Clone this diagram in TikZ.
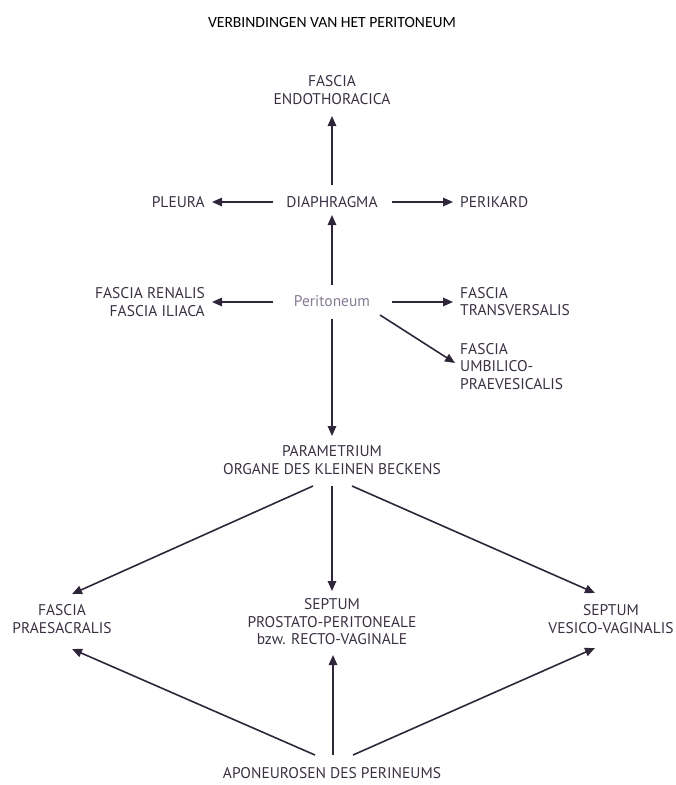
\documentclass[tikz,border=0pt]{standalone}
\usepackage{fontspec}
\setmainfont{PT Sans}
\newfontfamily\titlefont{Carlito}
\usetikzlibrary{arrows.meta,calc}
\definecolor{txt}{HTML}{3A3042}
\definecolor{lnc}{HTML}{30263A}
\definecolor{grey}{HTML}{857C92}
\tikzset{
  lbl/.style={inner sep=0pt, text=txt, font=\fontsize{15.5}{17.5}\selectfont, align=center},
  arr/.style={-{Triangle[length=10pt,width=8.5pt]}, line width=1.6pt, draw=lnc}
}
\begin{document}
\begin{tikzpicture}[x=1pt,y=-1pt]
\useasboundingbox (0,0) rectangle (676,785);
\node[inner sep=0pt, font=\titlefont\fontsize{15.6}{19}\selectfont] (title) at (332,22) {VERBINDINGEN VAN HET PERITONEUM};
\node[lbl] (endo) at (332,90) {FASCIA\\ENDOTHORACICA};
\node[lbl] (diaph) at (332,202) {DIAPHRAGMA};
\node[lbl, anchor=east] (pleura) at (205,202) {PLEURA};
\node[lbl, anchor=west] (perik) at (460,202) {PERIKARD};
\node[lbl, text=grey] (peri) at (332,301) {Peritoneum};
\node[lbl, anchor=east, align=right] (renal) at (205,302) {FASCIA RENALIS\\FASCIA ILIACA};
\node[lbl, anchor=west, align=left] (transv) at (460,301.5) {FASCIA\\TRANSVERSALIS};
\node[lbl, anchor=west, align=left] (umb) at (460,366.5) {FASCIA\\UMBILICO-\\PRAEVESICALIS};
\node[lbl] (para) at (332,460) {PARAMETRIUM\\ORGANE DES KLEINEN BECKENS};
\node[lbl] (fasc) at (62,619) {FASCIA\\PRAESACRALIS};
\node[lbl] (sept) at (332,622) {SEPTUM\\PROSTATO-PERITONEALE\\bzw. RECTO-VAGINALE};
\node[lbl] (vesico) at (611,619) {SEPTUM\\VESICO-VAGINALIS};
\node[lbl] (apon) at (332,773) {APONEUROSEN DES PERINEUMS};

\draw[arr] ($(diaph)+(0,-17)$) -- ($(endo)+(0,26)$);
\draw[arr] ($(diaph)+(-59,0)$) -- ($(pleura.east)+(7,0)$);
\draw[arr] ($(diaph)+(60,0)$) -- ($(perik.west)+(-7,0)$);
\draw[arr] ($(peri)+(0,-16)$) -- ($(diaph)+(0,13)$);
\draw[arr] ($(peri)+(-59,1)$) -- ($(renal.east)+(7,0)$);
\draw[arr] ($(peri)+(60,1)$) -- ($(transv.west)+(-7,0.5)$);
\draw[arr] ($(peri)+(48,14)$) -- ($(umb.west)+(-5,-3.5)$);
\draw[arr] ($(peri)+(0,18)$) -- ($(para)+(0,-24)$);
\draw[arr] ($(para)+(-19,26)$) -- ($(fasc)+(10,-25)$);
\draw[arr] ($(para)+(0,26)$) -- ($(sept)+(0,-31)$);
\draw[arr] ($(para)+(20,26)$) -- ($(vesico)+(-16,-26)$);
\draw[arr] ($(apon)+(-17,-18)$) -- ($(fasc)+(10,30)$);
\draw[arr] ($(apon)+(1,-18)$) -- ($(sept)+(1,33)$);
\draw[arr] ($(apon)+(21,-18)$) -- ($(vesico)+(-16,29)$);
\end{tikzpicture}
\end{document}
